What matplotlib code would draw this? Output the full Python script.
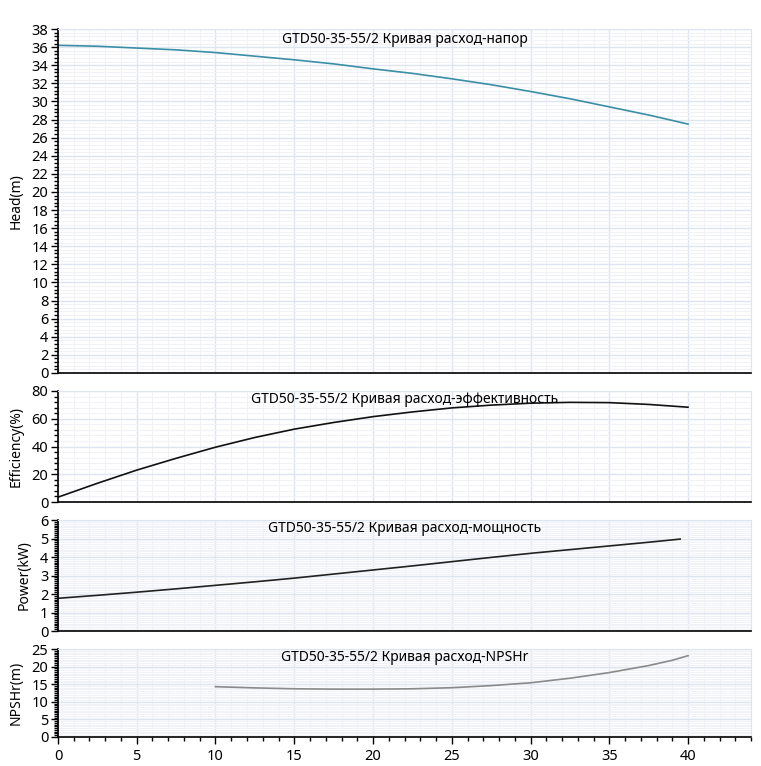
import matplotlib.pyplot as plt
from matplotlib.ticker import MultipleLocator

plt.rcParams['font.family'] = ['Noto Sans', 'DejaVu Sans']

# Data (flow in m3/h)
q_head = [0, 2.5, 5, 7.5, 10, 12.5, 15, 17.5, 20, 22.5, 25, 27.5, 30, 32.5, 35, 37.5, 40]
head = [36.2, 36.1, 35.9, 35.7, 35.4, 35.0, 34.6, 34.15, 33.6, 33.1, 32.5, 31.85,
        31.1, 30.3, 29.4, 28.5, 27.5]

q_eff = [0, 2.5, 5, 7.5, 10, 12.5, 15, 17.5, 20, 22.5, 25, 27.5, 30, 32.5, 35, 37.5, 40]
eff = [3.5, 13.5, 23.0, 31.5, 39.5, 46.5, 52.5, 57.3, 61.5, 64.9, 67.8, 69.8,
       71.2, 71.8, 71.6, 70.3, 68.3]

q_pow = [0, 2.5, 5, 7.5, 10, 12.5, 15, 17.5, 20, 22.5, 25, 27.5, 30, 32.5, 35, 37.5, 39.5]
power = [1.77, 1.93, 2.1, 2.28, 2.47, 2.66, 2.86, 3.08, 3.3, 3.52, 3.75, 3.98,
         4.2, 4.4, 4.6, 4.8, 4.97]

q_npsh = [10, 12.5, 15, 17.5, 20, 22.5, 25, 27.5, 30, 32.5, 35, 37.5, 39, 40]
npsh = [14.3, 13.95, 13.7, 13.6, 13.6, 13.7, 14.0, 14.6, 15.4, 16.7, 18.3, 20.3, 21.8, 23.1]

model = "GTD50-35-55/2"
titles = ["Кривая расход-напор", "Кривая расход-эффективность",
          "Кривая расход-мощность", "Кривая расход-NPSHr"]
ylabels = ["Head(m)", "Efficiency(%)", "Power(kW)", "NPSHr(m)"]

fig = plt.figure(figsize=(7.61, 7.66), dpi=100)
left, right = 0.0762, 0.9869
boxes = [(0.5131, 0.9621), (0.3446, 0.4896), (0.1762, 0.3211), (0.0379, 0.1527)]
series = [(q_head, head, '#3a8fa6', 38, 2, 0.4),
          (q_eff, eff, '#111111', 80, 20, 4),
          (q_pow, power, '#222222', 6, 1, 0.1),
          (q_npsh, npsh, '#8a8a8a', 25, 5, 0.5)]

axes = []
for i, ((b, t), (x, y, c, ymax, maj, mnr)) in enumerate(zip(boxes, series)):
    ax = fig.add_axes([left, b, right - left, t - b])
    ax.plot(x, y, color=c, linewidth=1.2)
    ax.set_xlim(0, 44)
    ax.set_ylim(0, ymax)
    ax.xaxis.set_major_locator(MultipleLocator(5))
    ax.xaxis.set_minor_locator(MultipleLocator(1))
    ax.yaxis.set_major_locator(MultipleLocator(maj))
    ax.yaxis.set_minor_locator(MultipleLocator(mnr))
    ax.grid(which='major', color='#dfe5f0', linewidth=1.0)
    ax.grid(which='minor', color='#f0f2f8', linewidth=0.8)
    ax.set_axisbelow(True)
    for s in ['top', 'right']:
        ax.spines[s].set_color('#dfe5f0')
    for s in ['left', 'bottom']:
        ax.spines[s].set_color('black')
        ax.spines[s].set_linewidth(1.2)
    ax.tick_params(axis='y', which='major', length=5, width=1, labelsize=10.5, pad=2)
    ax.tick_params(axis='y', which='minor', length=3, width=1)
    if i < 3:
        ax.tick_params(axis='x', which='both', bottom=False, labelbottom=False)
    else:
        ax.tick_params(axis='x', which='major', length=5, width=1, labelsize=10.5)
        ax.tick_params(axis='x', which='minor', length=3, width=1)
    ax.set_ylabel(ylabels[i], fontsize=10, labelpad=6)
    ax.text(0.5, 0.99, model + " " + titles[i], transform=ax.transAxes,
            ha='center', va='top', fontsize=10)
    axes.append(ax)

fig.align_ylabels(axes)
plt.savefig("out.png", dpi=100)
